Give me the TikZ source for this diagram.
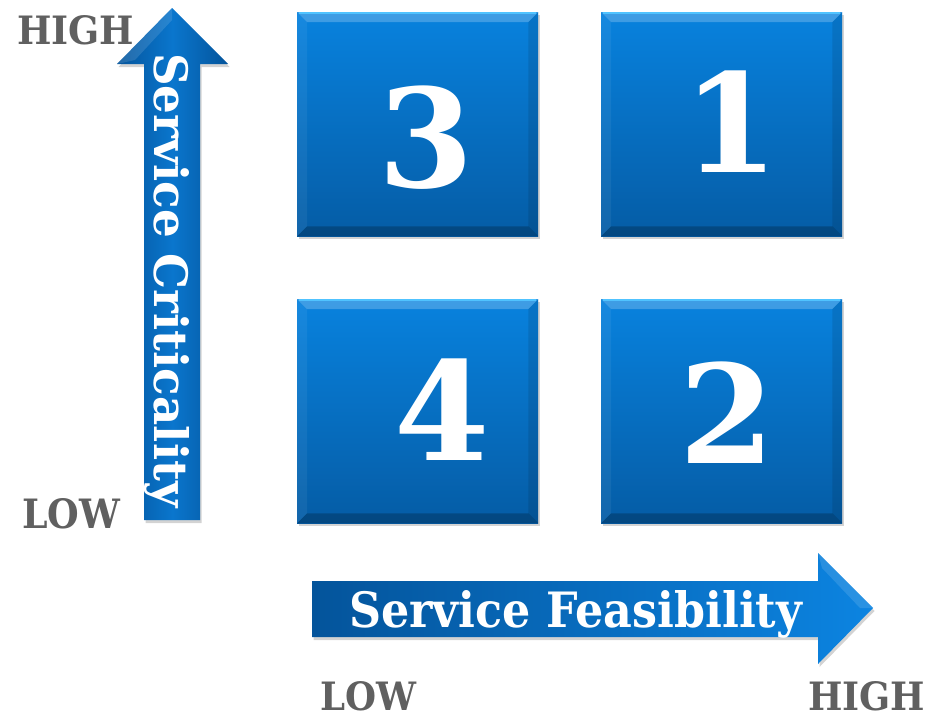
\documentclass[tikz,border=0pt]{standalone}
\usepackage{fontspec}
\setmainfont{DejaVu Serif}
\usetikzlibrary{shadows}
\definecolor{bluetop}{RGB}{8,130,222}
\definecolor{bluebot}{RGB}{5,92,165}
\definecolor{bluemid}{RGB}{10,118,205}
\definecolor{bluedark}{RGB}{4,84,155}
\definecolor{bluelight}{RGB}{12,132,225}
\definecolor{edgehi}{RGB}{80,195,255}
\definecolor{lblgray}{RGB}{96,96,96}
\tikzset{
  softshadow/.style={drop shadow={opacity=0.35,shadow xshift=1.5pt,shadow yshift=-3pt}},
  quad/.style={top color=bluetop,bottom color=bluebot,draw=none,softshadow,
    minimum width=241pt,minimum height=224pt,anchor=north west,inner sep=0pt},
  digit/.style={text=white,font=\bfseries\fontsize{137}{137}\selectfont,inner sep=0pt},
  axislbl/.style={text=lblgray,font=\bfseries,inner sep=0pt,anchor=base west},
  arrowtxt/.style={text=white,font=\bfseries,inner sep=0pt,anchor=base west},
  upshape/.style={left color=bluedark,right color=bluedark,middle color=bluemid,draw=none,softshadow},
  rightshape/.style={left color=bluedark,right color=bluelight,draw=none,softshadow},
}
\newcommand\bevelfacets[1]{%
  \fill[white,opacity=0.22] (#1.north west) -- (#1.north east) -- ([xshift=-10pt,yshift=-10pt]#1.north east) -- ([xshift=10pt,yshift=-10pt]#1.north west) -- cycle;
  \fill[black,opacity=0.22] (#1.south west) -- (#1.south east) -- ([xshift=-10pt,yshift=10pt]#1.south east) -- ([xshift=10pt,yshift=10pt]#1.south west) -- cycle;
  \fill[white,opacity=0.06] (#1.north west) -- ([xshift=10pt,yshift=-10pt]#1.north west) -- ([xshift=10pt,yshift=10pt]#1.south west) -- (#1.south west) -- cycle;
  \fill[black,opacity=0.10] (#1.north east) -- ([xshift=-10pt,yshift=-10pt]#1.north east) -- ([xshift=-10pt,yshift=10pt]#1.south east) -- (#1.south east) -- cycle;
  \draw[edgehi,line width=2pt] ([xshift=2pt,yshift=-1pt]#1.north west) -- ([xshift=-2pt,yshift=-1pt]#1.north east);
}
\begin{document}
\begin{tikzpicture}[x=1pt,y=-1pt]
\useasboundingbox (0,0) rectangle (940,720);

% quadrant boxes
\node[quad] (q3) at (297,12) {};
\node[quad] (q1) at (601,12) {};
\node[quad] (q4) at (297,299) {};
\node[quad] (q2) at (601,299) {};
\bevelfacets{q3}
\bevelfacets{q1}
\bevelfacets{q4}
\bevelfacets{q2}

\node[digit] (d3) at (426,138) {3};
\node[digit] (d1) at (731,122) {1};
\node[digit] (d4) at (442,410) {4};
\node[digit] (d2) at (727,413) {2};

% vertical arrow (Service Criticality)
\path[upshape] (144,520) -- (144,64) -- (117,64) -- (172,8) -- (228,64) -- (200,64) -- (200,520) -- cycle;
\fill[white,opacity=0.12] (117,64) -- (172,8) -- (172,20) -- (135,60) -- cycle;
\node[arrowtxt,rotate=-90] (vt) at (154,53) {\resizebox{454pt}{35pt}{Service Criticality}};

% horizontal arrow (Service Feasibility)
\path[rightshape] (312,581) -- (818,581) -- (818,553) -- (873,608) -- (818,664) -- (818,637) -- (312,637) -- cycle;
\fill[white,opacity=0.12] (818,553) -- (873,608) -- (860,608) -- (822,568) -- cycle;
\node[arrowtxt] (ht) at (349,627) {\resizebox{453pt}{37pt}{Service Feasibility}};

% axis labels
\node[axislbl] (vhigh) at (17,44) {\resizebox{117pt}{29pt}{HIGH}};
\node[axislbl] (vlow) at (22,528) {\resizebox{98pt}{30pt}{LOW}};
\node[axislbl] (hlow) at (320,710) {\resizebox{96pt}{29pt}{LOW}};
\node[axislbl] (hhigh) at (808,710) {\resizebox{117pt}{29pt}{HIGH}};
\end{tikzpicture}
\end{document}
